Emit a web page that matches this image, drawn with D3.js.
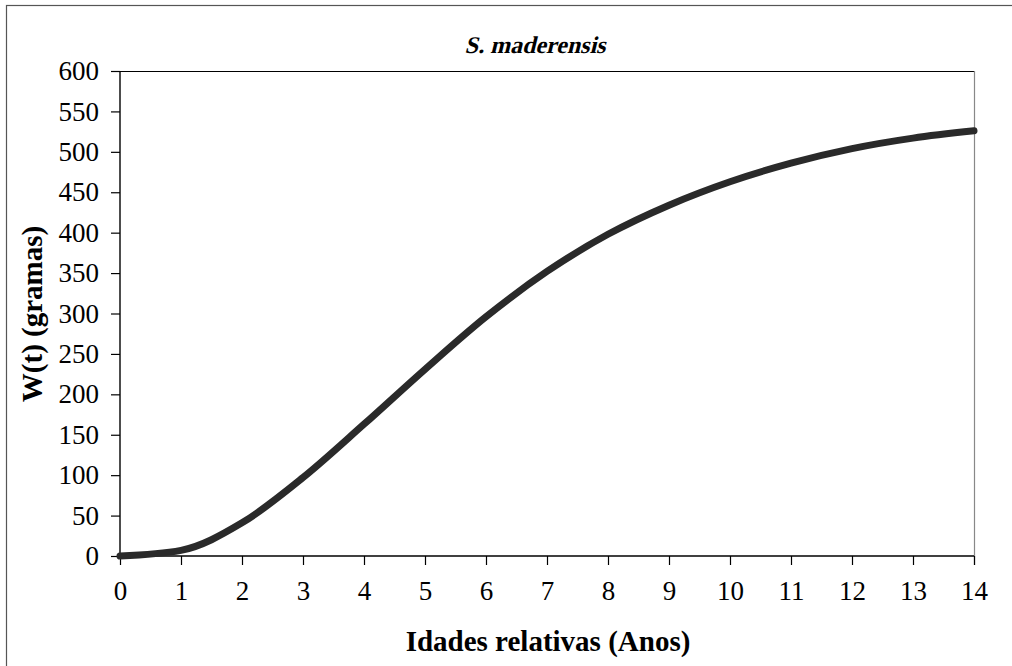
<!DOCTYPE html>
<html><head><meta charset="utf-8">
<script src="https://cdn.jsdelivr.net/npm/d3@7"></script>
<style>body{margin:0;background:#fff}svg{display:block}</style>
</head><body>
<svg id="c" width="1012" height="666"></svg>
<script>
const ages = [0,1,2,3,4,5,6,7,8,9,10,11,12,13,14];
const weights = [0,7,41,97,163,231,296,352,398,434,463,486,504,517,526];
const xTicks = [0,1,2,3,4,5,6,7,8,9,10,11,12,13,14];
const yTicks = [0,50,100,150,200,250,300,350,400,450,500,550,600];
const title = "S. maderensis";
const xTitle = "Idades relativas (Anos)";
const yTitle = "W(t) (gramas)";

const svg = d3.select("#c");
const font = "Liberation Serif";
const m = {l:120, t:71, r:974, b:556};
const x = d3.scaleLinear().domain([0,14]).range([m.l,m.r]);
const y = d3.scaleLinear().domain([0,600]).range([m.b,m.t]);

// outer frame
svg.append("rect").attr("x",6.5).attr("y",5.5).attr("width",1010).attr("height",700)
  .attr("fill","none").attr("stroke","#555").attr("stroke-width",1.2);

// plot frame top & right
svg.append("line").attr("x1",m.l).attr("x2",m.r).attr("y1",m.t+0.5).attr("y2",m.t+0.5).attr("stroke","#000").attr("stroke-width",1.2);
svg.append("line").attr("x1",m.r+0.5).attr("x2",m.r+0.5).attr("y1",m.t).attr("y2",m.b+9).attr("stroke","#888").attr("stroke-width",1.2);

const ya = svg.append("g").attr("transform",`translate(${m.l},0)`)
  .call(d3.axisLeft(y).tickValues(yTicks).tickSize(9).tickPadding(12));
const xa = svg.append("g").attr("transform",`translate(0,${m.b})`)
  .call(d3.axisBottom(x).tickValues(xTicks).tickSize(9).tickPadding(16));
[ya,xa].forEach(g=>{
  g.select(".domain").attr("stroke","#000").attr("stroke-width",1.4);
  g.selectAll(".tick line").attr("stroke","#000").attr("stroke-width",1.2);
  g.selectAll("text").attr("font-family",font).attr("font-size",27).attr("fill","#000");
});
ya.select(".domain").attr("d",`M0,${m.t}V${m.b}`);
xa.select(".domain").attr("d",`M${m.l},0H${m.r}`);

// curve
svg.append("path").datum(ages.map((a,i)=>[a,weights[i]]))
  .attr("fill","none").attr("stroke","#2a2a2a").attr("stroke-width",7)
  .attr("stroke-linecap","round").attr("stroke-linejoin","round")
  .attr("d",d3.line().x(d=>x(d[0])).y(d=>y(d[1])).curve(d3.curveMonotoneX));

// title: bold serif, slanted
svg.append("text").attr("transform","translate(535,53) skewX(-14)").attr("text-anchor","middle")
  .attr("font-family",font).attr("font-size",24).attr("font-weight","bold").text(title);
svg.append("text").attr("x",548).attr("y",651).attr("text-anchor","middle")
  .attr("font-family",font).attr("font-size",29).attr("font-weight","bold").text(xTitle);
svg.append("text").attr("transform","translate(42,314) rotate(-90)").attr("text-anchor","middle")
  .attr("font-family",font).attr("font-size",29).attr("font-weight","bold").text(yTitle);
</script>
</body></html>
